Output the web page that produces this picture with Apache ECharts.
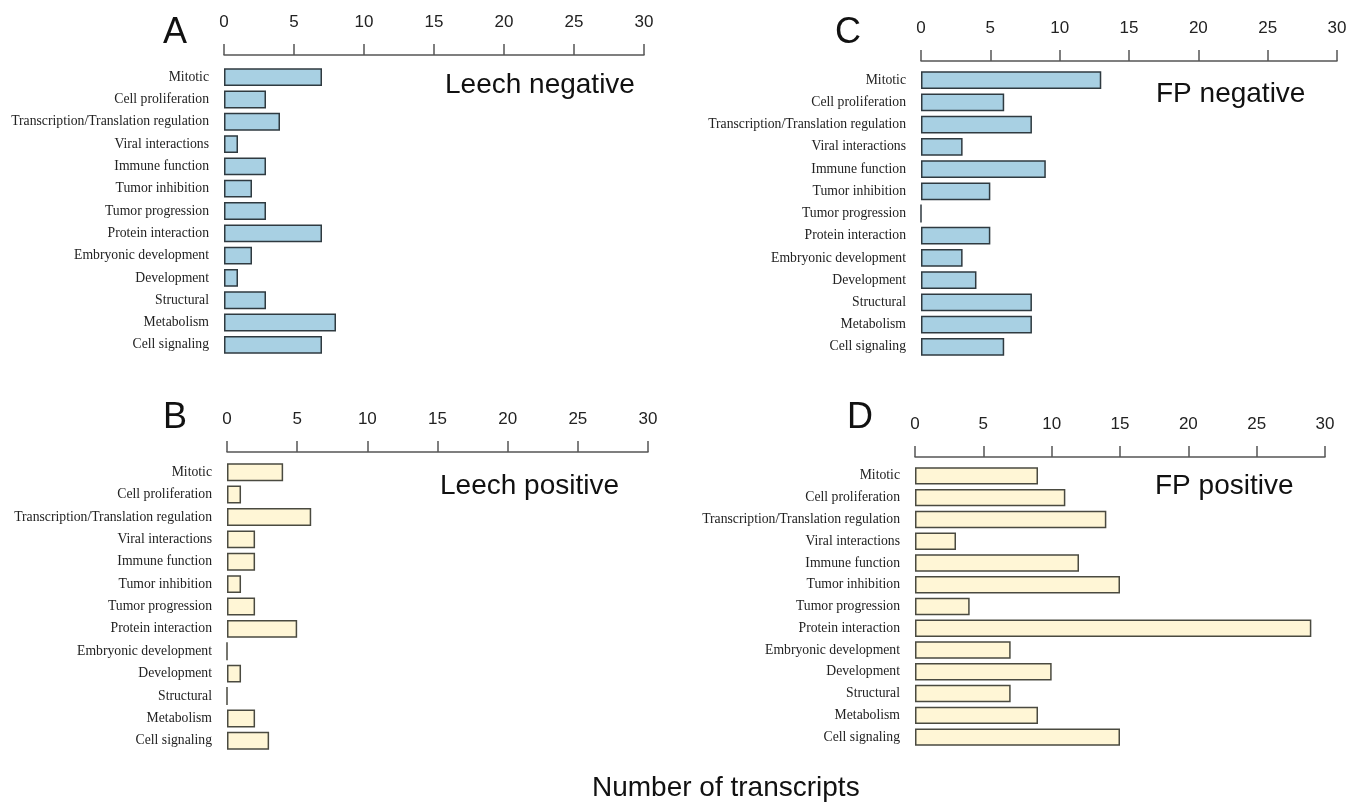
<!DOCTYPE html>
<html><head><meta charset="utf-8">
<script src="https://cdn.jsdelivr.net/npm/echarts@6/dist/echarts.min.js"></script>
<style>html,body{margin:0;padding:0;background:#fff}#c{width:1358px;height:803px}</style>
</head><body><div id="c"></div>
<script>
const categories = ["Mitotic","Cell proliferation","Transcription/Translation regulation","Viral interactions","Immune function","Tumor inhibition","Tumor progression","Protein interaction","Embryonic development","Development","Structural","Metabolism","Cell signaling"];
const leechNegative = [7,3,4,1,3,2,3,7,2,1,3,8,7];
const leechPositive = [4,1,6,2,2,1,2,5,0,1,0,2,3];
const fpNegative = [13,6,8,3,9,5,0,5,3,4,8,8,6];
const fpPositive = [9,11,14,3,12,15,4,29,7,10,7,9,15];
const panelLetters = ["A","B","C","D"];
const panelTitles = ["Leech negative","Leech positive","FP negative","FP positive"];
const axisTitle = "Number of transcripts";

const panels = [
  {data: leechNegative, grid:{left:224, top:66, width:420, height:290}, off:11, color:'#a8d0e3', border:'#2f3a40'},
  {data: leechPositive, grid:{left:227, top:461, width:421, height:291}, off:9, color:'#fff6d6', border:'#4a4a40'},
  {data: fpNegative, grid:{left:921, top:69, width:416, height:289}, off:8, color:'#a8d0e3', border:'#2f3a40'},
  {data: fpPositive, grid:{left:915, top:465, width:410, height:283}, off:8, color:'#fff6d6', border:'#4a4a40'}
];

const grids=[], xAxes=[], yAxes=[], series=[];
panels.forEach((p,i)=>{
  grids.push(Object.assign({containLabel:false}, p.grid));
  xAxes.push({type:'value', gridIndex:i, position:'top', min:0, max:30, interval:5, offset:p.off,
    axisLine:{show:true, lineStyle:{color:'#555', width:1.5}},
    axisTick:{show:true, length:11, lineStyle:{color:'#555', width:1.5}},
    axisLabel:{margin:24, color:'#222', fontSize:17, fontFamily:'Liberation Sans, Arial, sans-serif'},
    splitLine:{show:false}});
  yAxes.push({type:'category', gridIndex:i, data:categories, inverse:true,
    axisLine:{show:false}, axisTick:{show:false},
    axisLabel:{margin:15, color:'#222', fontSize:13.7, fontFamily:'Liberation Serif, Times New Roman, serif'}});
  series.push({type:'bar', xAxisIndex:i, yAxisIndex:i, data:p.data, barCategoryGap:'20%',
    itemStyle:{color:p.color, borderColor:p.border, borderWidth:1.5}, silent:true});
});

const titles = [
  {text:panelLetters[0], left:163, top:15},
  {text:panelLetters[1], left:163, top:400},
  {text:panelLetters[2], left:835, top:15},
  {text:panelLetters[3], left:847, top:400}
].map(t=>({text:t.text, left:t.left, top:t.top, padding:0, textStyle:{fontSize:36, fontWeight:'normal', color:'#111', fontFamily:'Liberation Sans, Arial, sans-serif'}}));
[
  {text:panelTitles[0], left:445, top:71},
  {text:panelTitles[1], left:440, top:472},
  {text:panelTitles[2], left:1156, top:80},
  {text:panelTitles[3], left:1155, top:472},
  {text:axisTitle, left:592, top:774}
].forEach(t=>titles.push({text:t.text, left:t.left, top:t.top, padding:0, textStyle:{fontSize:28, fontWeight:'normal', color:'#111', fontFamily:'Liberation Sans, Arial, sans-serif'}}));

const chart = echarts.init(document.getElementById('c'), null, {renderer:'canvas'});
chart.setOption({animation:false, backgroundColor:'#fff', title:titles, grid:grids, xAxis:xAxes, yAxis:yAxes, series:series});
</script></body></html>
